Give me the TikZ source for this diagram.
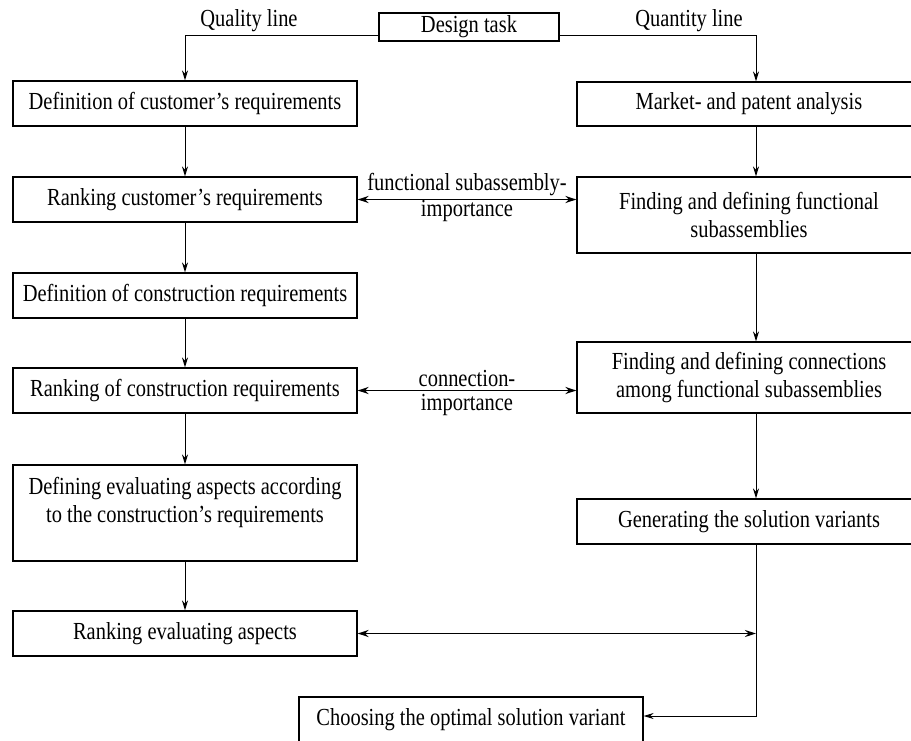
\documentclass[tikz,border=0pt]{standalone}
\usepackage{fontspec}
\setmainfont{Liberation Serif}[FakeStretch=0.835]
\usetikzlibrary{arrows.meta}
\begin{document}
\begin{tikzpicture}[x=1pt,y=-1pt,
  box/.style={draw, line width=1.2pt, inner sep=0pt, font=\fontsize{24.5}{28}\selectfont, align=center},
  lbl/.style={font=\fontsize{24.5}{28}\selectfont, align=center, inner sep=0pt},
  arr/.style={-{Stealth[length=10pt,width=6pt]}, line width=1pt},
  darr/.style={{Stealth[length=11pt,width=7pt]}-{Stealth[length=11pt,width=7pt]}, line width=1.8pt},
  ln/.style={line width=1pt}]
\useasboundingbox (0,0) rectangle (911,740);
\coordinate (rc) at (756,0);
% top
\node[box, minimum width=180, minimum height=28] (task) at (469,27) {Design task};
\node[lbl] (ql) at (249,21) {Quality line};
\node[lbl] (qn) at (689,21) {Quantity line};
% left column
\node[box, minimum width=344, minimum height=45] (L1) at (185,103.5) {Definition of customer's requirements};
\node[box, minimum width=344, minimum height=45] (L2) at (185,199.5) {Ranking customer's requirements};
\node[box, minimum width=344, minimum height=45] (L3) at (185,295.5) {Definition of construction requirements};
\node[box, minimum width=344, minimum height=45] (L4) at (185,390.5) {Ranking of construction requirements};
\node[box, minimum width=344, minimum height=96,
  label={[lbl, anchor=north, yshift=-13pt]north:{Defining evaluating aspects according\\to the construction's requirements}}] (L5) at (185,513) {};
\node[box, minimum width=344, minimum height=45] (L6) at (185,633.5) {Ranking evaluating aspects};
% right column
\node[box, minimum width=344, minimum height=44] (R1) at (749,104) {Market- and patent analysis};
\node[box, minimum width=344, minimum height=76] (R2) at (749,215) {Finding and defining functional\\subassemblies};
\node[box, minimum width=344, minimum height=71] (R3) at (749,377.5) {Finding and defining connections\\among functional subassemblies};
\node[box, minimum width=344, minimum height=45] (R4) at (749,521.5) {Generating the solution variants};
% bottom
\node[box, minimum width=344, minimum height=46] (B) at (471,720) {Choosing the optimal solution variant};
% connectors
\draw[arr] ([yshift=-8pt]task.west) -| (L1.north);
\draw[arr] ([yshift=-8pt]task.east) -| (R1.north -| rc);
\draw[arr] (L1) -- (L2);
\draw[arr] (L2) -- (L3);
\draw[arr] (L3) -- (L4);
\draw[arr] (L4) -- (L5);
\draw[arr] (L5) -- (L6);
\draw[arr] (R1.south -| rc) -- (R2.north -| rc);
\draw[arr] (R2.south -| rc) -- (R3.north -| rc);
\draw[arr] (R3.south -| rc) -- (R4.north -| rc);
\draw[darr] (L2.east) -- (L2.east -| R2.west);
\draw[darr] (L4.east) -- (L4.east -| R3.west);
\draw[darr] (L6.east) -- (L6.east -| rc);
\draw[arr] (R4.south -| rc) |- ([yshift=4pt]B.east);
% labels
\node[lbl] (fs) at (467,185) {functional subassembly-};
\node[lbl] (fi) at (467,211) {importance};
\node[lbl] (cn) at (467,379) {connection-};
\node[lbl] (ci) at (467,405) {importance};
\end{tikzpicture}
\end{document}
